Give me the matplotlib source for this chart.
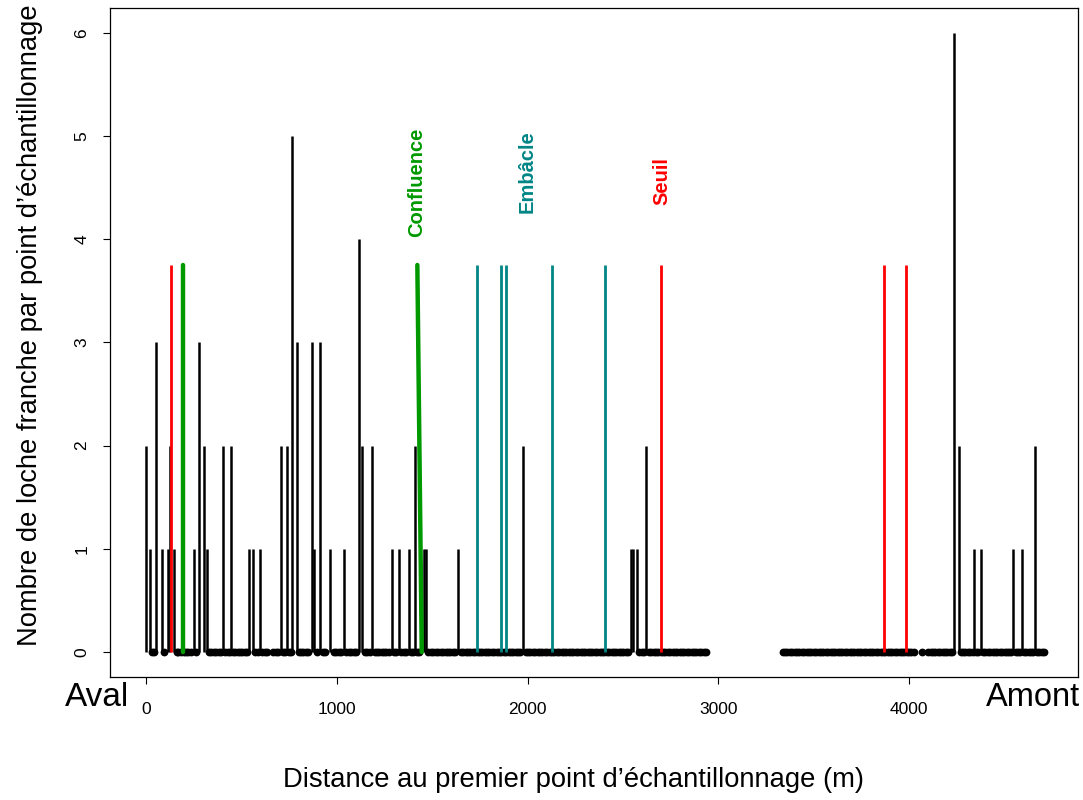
import matplotlib
matplotlib.use('Agg')
import matplotlib.pyplot as plt

plt.rcParams['font.family'] = ['Liberation Sans', 'DejaVu Sans']

# survey points with at least one fish: distance (m) and count
fish_dist = [0, 21, 52, 82, 114, 126, 148, 250, 278, 304, 320, 402, 447, 541, 562, 597,
             706, 737, 767, 790, 868, 882, 912, 964, 1038, 1118, 1134, 1186, 1288, 1326,
             1378, 1410, 1457, 1468, 1637, 1977, 2540, 2554, 2572, 2621,
             4236, 4259, 4341, 4375, 4546, 4590, 4658]
fish_count = [2, 1, 3, 1, 1, 2, 1, 1, 3, 2, 1, 2, 2, 1, 1, 1,
              2, 2, 5, 3, 3, 1, 3, 1, 1, 4, 2, 2, 1, 1,
              1, 2, 1, 1, 1, 2, 1, 1, 1, 2,
              6, 2, 1, 1, 1, 1, 2]

# survey points with no fish (m)
empty_dist = [30, 40, 92, 160, 170, 185, 200, 210, 222, 235, 262,
              330, 342, 355, 368, 380, 392, 415, 428, 440, 455, 467, 480, 492, 505, 518, 530,
              572, 585, 610, 622, 634, 668, 680, 692, 718, 728, 748, 758,
              800, 812, 825, 838, 849, 895, 925, 940,
              985, 997, 1010, 1022, 1050, 1062, 1075, 1088, 1100,
              1148, 1160, 1172, 1198, 1210, 1222, 1235, 1247, 1260, 1272, 1300, 1312, 1338,
              1350, 1362, 1390, 1400, 1422, 1432,
              1480, 1492, 1505, 1518, 1530, 1545, 1558, 1570, 1582, 1595, 1608, 1620,
              1650, 1662, 1675, 1688, 1700, 1712, 1725, 1738, 1750, 1762, 1775, 1788, 1800,
              1812, 1825, 1838, 1850, 1862, 1875, 1888, 1900, 1912, 1925, 1938, 1950, 1962,
              1990, 2002, 2015, 2028, 2040, 2052, 2065, 2078, 2090, 2102, 2115, 2128, 2140,
              2152, 2165, 2178, 2190, 2202, 2215, 2228, 2240, 2252, 2265, 2278, 2290, 2302,
              2315, 2328, 2340, 2352, 2365, 2378, 2390, 2402, 2415, 2428, 2440, 2452, 2465,
              2478, 2490, 2502, 2515, 2526,
              2585, 2598, 2610, 2635, 2648, 2660, 2672, 2685, 2698, 2710, 2722, 2735, 2748,
              2760, 2772, 2785, 2798, 2810, 2822, 2835, 2848, 2860, 2872, 2885, 2898, 2910,
              2922, 2935,
              3338, 3350, 3362, 3375, 3388, 3400, 3412, 3425, 3438, 3450, 3462, 3475, 3488,
              3500, 3512, 3525, 3538, 3550, 3562, 3575, 3588, 3600, 3612, 3625, 3638, 3650,
              3662, 3675, 3688, 3700, 3712, 3725, 3738, 3750, 3762, 3775, 3788, 3800, 3812,
              3825, 3838, 3850, 3862, 3875, 3888, 3900, 3912, 3925, 3938, 3950, 3962, 3975,
              3988, 4000, 4012, 4025, 4066,
              4100, 4112, 4125, 4138, 4150, 4162, 4175, 4188, 4200, 4212, 4225,
              4270, 4282, 4295, 4308, 4320, 4332, 4352, 4362, 4388, 4400, 4412, 4425, 4438,
              4450, 4462, 4475, 4488, 4500, 4512, 4525, 4535, 4558, 4570, 4580, 4602, 4615,
              4628, 4640, 4650, 4670, 4682, 4695, 4708]

# obstacles / features along the stream (m)
seuil_dist = [131, 2699, 3866, 3982]
embacle_dist = [1736, 1861, 1888, 2129, 2407]
confluence_top = [192, 1422]
confluence_bottom = [192, 1445]
marker_height = 3.75

feature_labels = ['Confluence', 'Embâcle', 'Seuil']
label_x = [1420, 1997, 2704]
label_y = [4.55, 4.65, 4.56]

green = '#009900'
teal = '#008585'
red = '#ff0000'

fig = plt.figure(figsize=(10.83, 8), dpi=100)
ax = fig.add_axes([110 / 1083, 1 - 677 / 800, 968 / 1083, 669 / 800])

ax.vlines(fish_dist, 0, fish_count, color='black', lw=1.8)
ax.plot(empty_dist, [0] * len(empty_dist), 'o', color='black', ms=4.6, mec='black')

ax.vlines(seuil_dist, 0, marker_height, color=red, lw=2.0)
ax.vlines(embacle_dist, 0, marker_height, color=teal, lw=2.0)
for xt, xb in zip(confluence_top, confluence_bottom):
    ax.plot([xt, xb], [marker_height, 0], color=green, lw=3.2, solid_capstyle='round')

for lab, lx, ly, col in zip(feature_labels, label_x, label_y, [green, teal, red]):
    ax.text(lx, ly, lab, rotation=90, color=col, fontsize=14.5, fontweight='bold',
            ha='center', va='center')

ax.set_xlim(-189, 4885)
ax.set_ylim(-0.242, 6.24)
ax.set_xticks([0, 1000, 2000, 3000, 4000])
ax.set_yticks([0, 1, 2, 3, 4, 5, 6])
ax.tick_params(axis='x', length=5, width=0.8, pad=13, labelsize=12.5)
ax.tick_params(axis='y', length=5, width=0.8, pad=10, labelsize=12.5, labelrotation=90)
for lbl in ax.get_yticklabels():
    lbl.set_va('center')
for sp in ax.spines.values():
    sp.set_linewidth(0.9)

fig.text(30 / 1083, 1 - 325 / 800, "Nombre de loche franche par point d\u2019échantillonnage",
         rotation=90, ha='center', va='center', fontsize=19.7)
fig.text(573 / 1083, 1 - 780 / 800, "Distance au premier point d\u2019échantillonnage (m)",
         ha='center', va='center', fontsize=19.7)
fig.text(65 / 1083, 1 - 697 / 800, 'Aval', ha='left', va='center', fontsize=24)
fig.text(1080 / 1083, 1 - 697 / 800, 'Amont', ha='right', va='center', fontsize=23.5)

plt.savefig('out.png', dpi=100)
